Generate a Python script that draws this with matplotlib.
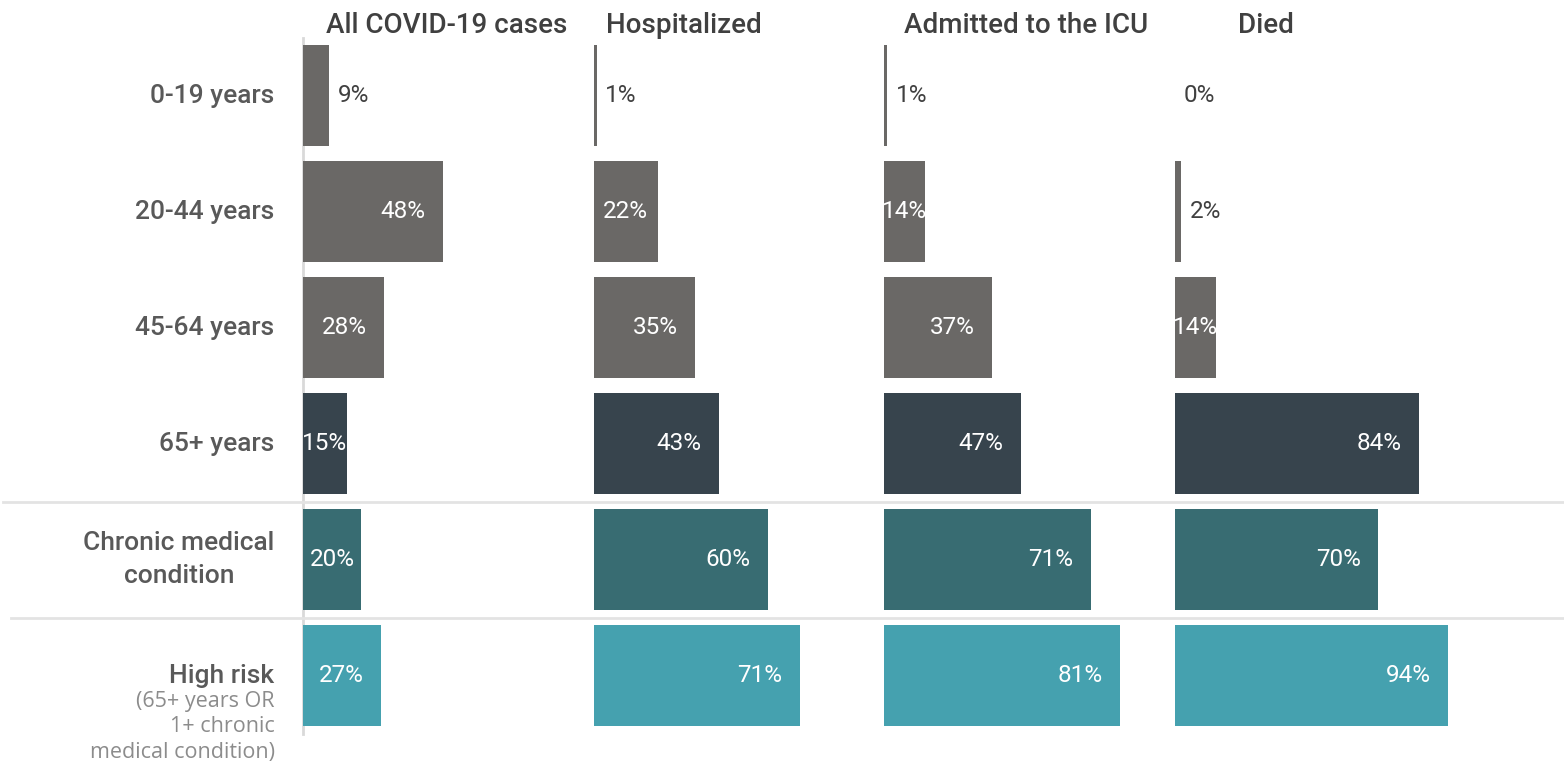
import matplotlib.pyplot as plt

# data
categories = ['0-19 years', '20-44 years', '45-64 years', '65+ years',
              'Chronic medical\ncondition', 'High risk']
panels = ['All COVID-19 cases', 'Hospitalized', 'Admitted to the ICU', 'Died']
all_cases = [9, 48, 28, 15, 20, 27]
hospitalized = [1, 22, 35, 43, 60, 71]
icu = [1, 14, 37, 47, 71, 81]
died = [0, 2, 14, 84, 70, 94]
subnote = '(65+ years OR\n1+ chronic\nmedical condition)'

series = [all_cases, hospitalized, icu, died]
row_colors = ['#6a6866', '#6a6866', '#6a6866', '#37444d', '#386c72', '#45a1af']
title_pos = [49.5, 31, 48.6, 31.3]  # header centre inside each panel

FONT = 'Roboto'
plt.rcParams['font.family'] = [FONT, 'DejaVu Sans']

fig = plt.figure(figsize=(15.64, 7.72), dpi=100)
ax = fig.add_axes([0, 0, 1, 1])
px = (1175 - 303) / 300  # pixels per percentage point
ax.set_xlim(-303 / px, (1564 - 303) / px)
ax.set_ylim((772 - 95.5) / 116, -95.5 / 116)
ax.axis('off')

rows = list(range(len(categories)))

# axis line + separators
ax.plot([0, 0], [-0.5, 5.5], color='#d9d9d9', lw=2, zorder=0)
ax.axhline(3.5, xmin=3 / 1564, xmax=1, color='#e3e3e3', lw=2, zorder=0)
ax.axhline(4.5, xmin=11 / 1564, xmax=1, color='#e3e3e3', lw=2, zorder=0)

for p, vals in enumerate(series):
    off = p * 100
    ax.barh(rows, vals, left=off, height=0.87, color=row_colors, zorder=2)
    ax.text(off + title_pos[p], -0.6, panels[p], ha='center', va='center',
            fontsize=20, color='#404040', fontweight='medium')
    for r, v in zip(rows, vals):
        lab = f'{v}%'
        if v >= 25:
            ax.text(off + v - 6, r, lab, ha='right', va='center',
                    fontsize=17.5, color='white', zorder=3)
        elif v >= 10:
            ax.text(off + v / 2, r, lab, ha='center', va='center',
                    fontsize=17.5, color='white', zorder=3)
        else:
            ax.text(off + v + 3, r, lab, ha='left', va='center',
                    fontsize=17.5, color='#404040', zorder=3)

# row labels
for r, c in zip(rows, categories):
    ax.text(-9.8, r, c, ha='right', va='center', fontsize=19,
            color='#595959', fontweight='medium', multialignment='center',
            linespacing=1.45)

ax.text(-9.8, 5.13, subnote, ha='right', va='top', fontsize=15.5,
        color='#8c8c8c', family=['Open Sans', 'DejaVu Sans'],
        linespacing=1.3)

plt.savefig('out.png', dpi=100)
